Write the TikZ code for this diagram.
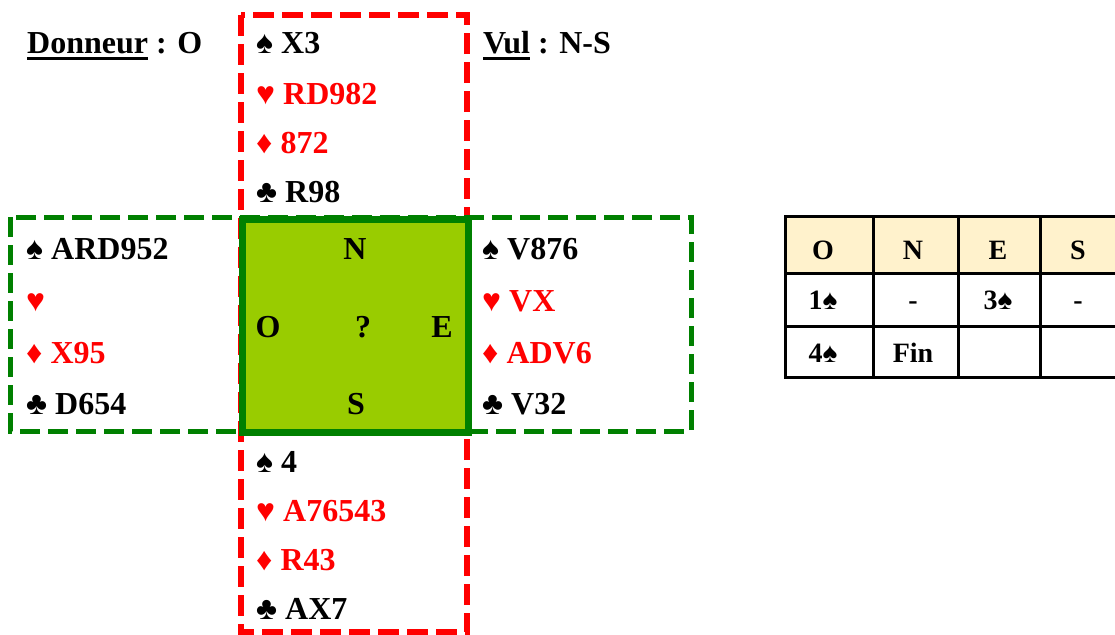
\documentclass[tikz,border=0pt]{standalone}
\usepackage{fontspec}
\setmainfont{Liberation Serif}
\definecolor{cred}{RGB}{255,0,0}
\definecolor{cgreen}{RGB}{0,128,0}
\definecolor{cfill}{RGB}{153,204,0}
\definecolor{ccream}{RGB}{255,242,204}
\newcommand\myul[1]{\setbox0\hbox{#1}\rlap{\rule[-6pt]{\wd0}{2.6pt}}#1}
\begin{document}
\begin{tikzpicture}[x=1pt,y=-1pt,
  card/.style={anchor=base west,inner sep=0pt,font=\fontsize{32}{38}\selectfont\bfseries},
  redc/.style={card,text=cred},
  dir/.style={anchor=base,inner sep=0pt,font=\fontsize{32}{38}\selectfont\bfseries},
  cell/.style={anchor=base,inner sep=0pt,font=\fontsize{28}{34}\selectfont\bfseries},
  reddash/.style={draw=cred,line width=6pt,dash pattern=on 21pt off 8pt},
  greendash/.style={draw=cgreen,line width=5pt,dash pattern=on 20pt off 8pt},
  tline/.style={draw=black,line width=3pt}]
\clip (0,0) rectangle (1115,634);
\fill[white] (0,0) rectangle (1115,634);
% frames
\draw[reddash] (241,15) rectangle (467,632);
\draw[greendash] (10,217) rectangle (691,431);
\draw[draw=cgreen,fill=cfill,line width=7pt] (242,219) rectangle (468,432);
% header
\node[card] (donneur) at (27,54) {\myul{Donneur} : O};
\node[card] (vul) at (483,54) {\myul{Vul} : N-S};
% North
\node[card] (n1) at (256,54) {♠ X3};
\node[redc] (n2) at (256,104) {♥ RD982};
\node[redc] (n3) at (256,153) {♦ 872};
\node[card] (n4) at (256,202) {♣ R98};
% West
\node[card] (w1) at (26,259) {♠ ARD952};
\node[redc] (w2) at (26,311) {♥};
\node[redc] (w3) at (26,363) {♦ X95};
\node[card] (w4) at (26,414) {♣ D654};
% East
\node[card] (e1) at (482,259) {♠ V876};
\node[redc] (e2) at (482,311) {♥ VX};
\node[redc] (e3) at (482,363) {♦ ADV6};
\node[card] (e4) at (482,414) {♣ V32};
% South
\node[card] (s1) at (256,472) {♠ 4};
\node[redc] (s2) at (256,521) {♥ A76543};
\node[redc] (s3) at (256,570) {♦ R43};
\node[card] (s4) at (256,619) {♣ AX7};
% compass
\node[dir] (cN) at (355,259) {N};
\node[dir] (cO) at (268,337) {O};
\node[dir] (cQ) at (363,337) {?};
\node[dir] (cE) at (442,337) {E};
\node[dir] (cS) at (356,414) {S};
% table
\fill[ccream] (785,216) rectangle (1123,273);
\draw[tline] (785,216) rectangle (1123,377);
\draw[tline] (785,273) -- (1123,273);
\draw[tline] (785,326) -- (1123,326);
\draw[tline] (873,216) -- (873,377);
\draw[tline] (958,216) -- (958,377);
\draw[tline] (1040,216) -- (1040,377);
\node[cell] (hO) at (823,259) {O};
\node[cell] (hN) at (913,259) {N};
\node[cell] (hE) at (998,259) {E};
\node[cell] (hS) at (1078,259) {S};
\node[cell] (b1) at (823,309) {1♠};
\node[cell] (b2) at (913,309) {-};
\node[cell] (b3) at (998,309) {3♠};
\node[cell] (b4) at (1078,309) {-};
\node[cell] (b5) at (823,362) {4♠};
\node[cell] (b6) at (913,362) {Fin};
\end{tikzpicture}
\end{document}
